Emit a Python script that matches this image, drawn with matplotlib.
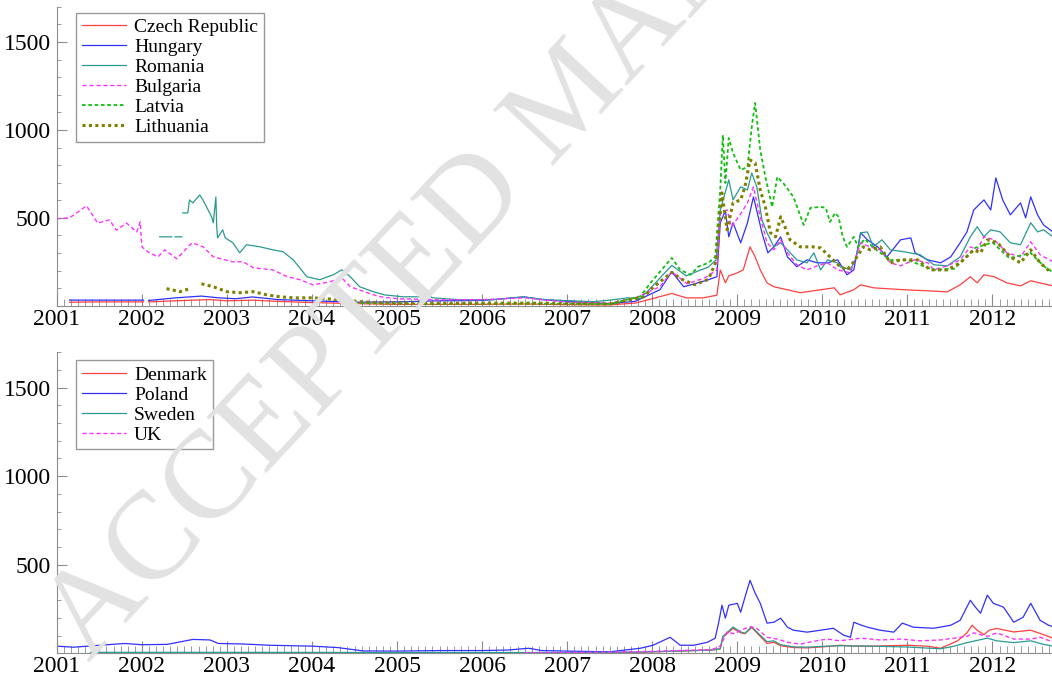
import numpy as np
import matplotlib
matplotlib.use('Agg')
from matplotlib import pyplot as plt
from matplotlib.ticker import MultipleLocator

nan = np.nan

#-----------------top panel series---------------------------#
cz_x = [2001.15, 2001.5, 2002.02, 2002.03, 2002.08, 2002.5, 2002.8, 2003.0, 2003.3, 2003.6, 2004.0, 2004.5,
        2005.0, 2005.5, 2006.0, 2006.5, 2007.0, 2007.5, 2007.8, 2008.0, 2008.23, 2008.4, 2008.6, 2008.76,
        2008.8, 2008.86, 2008.9, 2009.0, 2009.07, 2009.15, 2009.21, 2009.27, 2009.35, 2009.43, 2009.59,
        2009.74, 2009.98, 2010.14, 2010.21, 2010.37, 2010.45, 2010.6, 2010.96, 2011.24, 2011.47, 2011.62,
        2011.74, 2011.82, 2011.9, 2012.02, 2012.17, 2012.33, 2012.45, 2012.6, 2012.71]
cz_y = [20, 22, 22, nan, 22, 30, 35, 28, 32, 25, 18, 12, 8, 8, 8, 10, 6, 5, 15, 40, 70, 45, 45, 60,
        204, 130, 170, 187, 204, 335, 278, 204, 130, 108, 91, 74, 91, 102, 62, 91, 119, 102, 91, 85, 79,
        119, 165, 130, 176, 165, 130, 113, 142, 125, 113]

hu_x = [2001.15, 2001.6, 2002.02, 2002.03, 2002.08, 2002.4, 2002.7, 2002.9, 2003.1, 2003.3, 2003.6, 2004.0,
        2004.5, 2005.0, 2005.5, 2006.0, 2006.5, 2006.7, 2007.0, 2007.5, 2007.8, 2008.09, 2008.23, 2008.37,
        2008.5, 2008.66, 2008.76, 2008.8, 2008.86, 2008.9, 2008.95, 2009.04, 2009.12, 2009.19, 2009.23,
        2009.29, 2009.36, 2009.43, 2009.51, 2009.59, 2009.7, 2009.82, 2009.94, 2010.06, 2010.18, 2010.29,
        2010.37, 2010.45, 2010.53, 2010.65, 2010.76, 2010.92, 2011.04, 2011.09, 2011.24, 2011.39, 2011.51,
        2011.62, 2011.7, 2011.78, 2011.9, 2011.98, 2012.04, 2012.12, 2012.21, 2012.33, 2012.39, 2012.45,
        2012.53, 2012.6, 2012.71]
hu_y = [32, 32, 32, nan, 30, 45, 55, 45, 40, 50, 35, 28, 20, 22, 28, 30, 50, 35, 25, 12, 25, 91, 193, 108,
        125, 148, 165, 472, 540, 392, 472, 358, 472, 619, 540, 415, 301, 335, 392, 278, 222, 261, 244, 244,
        261, 176, 204, 415, 375, 335, 278, 375, 386, 301, 261, 244, 278, 358, 420, 545, 602, 545, 727, 602,
        517, 585, 500, 619, 517, 460, 420]

ro_x = [2002.21, 2002.35, 2002.36, 2002.39, 2002.47, 2002.475, 2002.48, 2002.54, 2002.56, 2002.6, 2002.68,
        2002.72, 2002.76, 2002.82, 2002.84, 2002.87, 2002.88, 2002.89, 2002.95, 2002.98, 2003.07, 2003.15,
        2003.23, 2003.39, 2003.54, 2003.66, 2003.78, 2003.94, 2004.09, 2004.25, 2004.35, 2004.45, 2004.56,
        2004.72, 2004.85, 2005.07, 2005.27, 2005.31, 2005.42, 2005.74, 2006.13, 2006.48, 2006.76, 2007.31,
        2007.54, 2007.71, 2007.86, 2008.0, 2008.23, 2008.4, 2008.55, 2008.66, 2008.75, 2008.8, 2008.9,
        2008.95, 2009.04, 2009.12, 2009.17, 2009.23, 2009.29, 2009.35, 2009.43, 2009.51, 2009.59, 2009.7,
        2009.82, 2009.9, 2009.98, 2010.06, 2010.18, 2010.21, 2010.33, 2010.4, 2010.45, 2010.53, 2010.6,
        2010.7, 2010.8, 2010.96, 2011.15, 2011.31, 2011.47, 2011.62, 2011.74, 2011.82, 2011.9, 2011.98,
        2012.09, 2012.21, 2012.33, 2012.45, 2012.53, 2012.6, 2012.71]
ro_y = [392, 392, nan, 392, 392, nan, 528, 528, 602, 585, 630, 600, 562, 506, 472, 619, 449, 386, 432, 386,
        358, 301, 347, 335, 318, 307, 261, 165, 148, 176, 204, 165, 108, 80, 62, 51, 51, 74, 45, 34, 34,
        51, 34, 23, 34, 45, 40, 110, 230, 170, 200, 220, 260, 545, 716, 602, 676, 659, 755, 676, 488, 415,
        335, 358, 318, 261, 244, 301, 204, 261, 244, 222, 204, 278, 415, 420, 335, 375, 318, 307, 290, 233,
        227, 278, 392, 449, 392, 432, 420, 358, 347, 472, 420, 432, 392]

bg_x = [2001.0, 2001.15, 2001.35, 2001.48, 2001.62, 2001.7, 2001.82, 2001.94, 2001.98, 2002.0, 2002.07,
        2002.19, 2002.27, 2002.41, 2002.59, 2002.72, 2002.84, 2003.07, 2003.19, 2003.31, 2003.54, 2003.71,
        2003.86, 2004.01, 2004.21, 2004.35, 2004.45, 2004.65, 2004.8, 2005.0, 2005.5, 2006.0, 2006.5,
        2007.0, 2007.5, 2007.8, 2008.09, 2008.23, 2008.41, 2008.62, 2008.76, 2008.8, 2008.88, 2008.93,
        2009.04, 2009.12, 2009.19, 2009.27, 2009.35, 2009.43, 2009.51, 2009.59, 2009.7, 2009.82, 2009.94,
        2010.06, 2010.18, 2010.33, 2010.45, 2010.56, 2010.68, 2010.8, 2010.92, 2011.08, 2011.24, 2011.31,
        2011.47, 2011.62, 2011.74, 2011.82, 2011.9, 2012.02, 2012.17, 2012.33, 2012.45, 2012.56, 2012.71]
bg_y = [495, 500, 568, 470, 488, 430, 470, 420, 477, 335, 307, 278, 318, 267, 358, 335, 278, 250, 250, 216,
        204, 165, 148, 119, 136, 159, 108, 74, 51, 40, 34, 35, 45, 20, 15, 45, 108, 193, 125, 159, 204,
        523, 545, 449, 523, 585, 676, 506, 358, 318, 375, 301, 233, 204, 227, 244, 204, 187, 358, 335, 318,
        244, 227, 261, 244, 204, 227, 261, 335, 318, 392, 375, 301, 278, 364, 290, 250]

lv_x = [2004.5, 2005.5, 2006.5, 2007.5, 2007.86, 2007.98, 2008.09, 2008.23, 2008.33, 2008.45, 2008.54,
        2008.66, 2008.74, 2008.8, 2008.83, 2008.86, 2008.9, 2008.95, 2009.04, 2009.12, 2009.17, 2009.21,
        2009.27, 2009.33, 2009.41, 2009.47, 2009.54, 2009.66, 2009.78, 2009.86, 2009.98, 2010.04, 2010.09,
        2010.15, 2010.19, 2010.24, 2010.29, 2010.37, 2010.42, 2010.5, 2010.6, 2010.8, 2011.0, 2011.3,
        2011.55, 2011.8, 2012.0, 2012.2, 2012.45, 2012.6, 2012.71]
lv_y = [15, 10, 12, 10, 53, 130, 193, 272, 204, 176, 222, 244, 278, 659, 971, 698, 954, 869, 772, 790,
        1017, 1153, 886, 733, 562, 733, 698, 619, 460, 557, 562, 557, 477, 528, 506, 392, 335, 392, 335,
        380, 330, 260, 261, 204, 210, 330, 360, 270, 300, 227, 190]

lt_x = [2002.29, 2002.45, 2002.56, 2002.6, 2002.7, 2002.84, 2003.0, 2003.15, 2003.31, 2003.47, 2003.62,
        2003.78, 2004.01, 2004.33, 2004.56, 2004.8, 2005.5, 2006.5, 2007.5, 2007.9, 2008.0, 2008.23, 2008.35,
        2008.5, 2008.66, 2008.75, 2008.82, 2008.88, 2008.95, 2009.04, 2009.09, 2009.15, 2009.21, 2009.27,
        2009.33, 2009.39, 2009.45, 2009.51, 2009.56, 2009.62, 2009.74, 2009.89, 2009.98, 2010.09, 2010.21,
        2010.29, 2010.37, 2010.48, 2010.56, 2010.68, 2010.8, 2010.92, 2011.12, 2011.27, 2011.47, 2011.62,
        2011.78, 2011.86, 2011.94, 2012.06, 2012.21, 2012.33, 2012.45, 2012.56, 2012.68]
lt_y = [97, 80, 97, nan, 125, 108, 80, 74, 80, 62, 51, 45, 45, 34, 23, 17, 15, 15, 10, 50, 100, 190, 150,
        120, 150, 250, 642, 432, 585, 602, 676, 829, 812, 659, 562, 415, 392, 506, 449, 375, 335, 335, 329,
        278, 222, 204, 250, 335, 318, 335, 244, 261, 261, 204, 204, 244, 318, 301, 375, 358, 278, 244, 318,
        244, 193]

#-----------------bottom panel series---------------------------#
pl_x = [2001.0, 2001.2, 2001.5, 2001.8, 2002.0, 2002.3, 2002.6, 2002.8, 2002.9, 2003.2, 2003.5, 2004.0,
        2004.3, 2004.6, 2005.0, 2005.5, 2006.0, 2006.3, 2006.55, 2006.7, 2007.0, 2007.5, 2007.86, 2008.01,
        2008.21, 2008.33, 2008.49, 2008.65, 2008.74, 2008.78, 2008.82, 2008.86, 2008.9, 2009.0, 2009.04,
        2009.09, 2009.15, 2009.21, 2009.27, 2009.35, 2009.43, 2009.51, 2009.59, 2009.66, 2009.82, 2009.98,
        2010.13, 2010.25, 2010.33, 2010.37, 2010.45, 2010.53, 2010.68, 2010.84, 2010.94, 2011.07, 2011.31,
        2011.51, 2011.62, 2011.74, 2011.8, 2011.86, 2011.94, 2012.01, 2012.13, 2012.25, 2012.36, 2012.45,
        2012.56, 2012.66, 2012.71]
pl_y = [40, 34, 45, 55, 48, 50, 78, 75, 55, 52, 45, 40, 32, 13, 12, 15, 15, 18, 28, 15, 12, 8, 28, 45,
        90, 45, 45, 62, 85, 170, 271, 198, 271, 282, 232, 316, 412, 339, 282, 170, 175, 198, 147, 130, 119,
        130, 141, 102, 90, 175, 160, 147, 130, 119, 170, 147, 141, 158, 186, 299, 260, 226, 328, 282, 260,
        175, 203, 282, 186, 158, 150]

dk_x = [2003.3, 2004.0, 2005.0, 2006.0, 2007.0, 2007.8, 2008.3, 2008.7, 2008.8, 2008.83, 2008.95, 2009.04,
        2009.09, 2009.17, 2009.23, 2009.35, 2009.43, 2009.51, 2009.66, 2009.82, 2010.06, 2010.21, 2010.37,
        2010.6, 2011.0, 2011.23, 2011.39, 2011.59, 2011.7, 2011.76, 2011.82, 2011.9, 2011.96, 2012.05,
        2012.25, 2012.45, 2012.6, 2012.71]
dk_y = [3, 3, 3, 3, 3, 5, 12, 18, 25, 90, 140, 115, 110, 145, 115, 55, 62, 42, 32, 30, 38, 45, 40, 40, 45,
        40, 28, 70, 115, 158, 130, 105, 130, 140, 120, 130, 105, 85]

se_x = [2001.4, 2003.0, 2005.0, 2007.0, 2007.8, 2008.3, 2008.7, 2008.8, 2008.83, 2008.95, 2009.04, 2009.09,
        2009.17, 2009.23, 2009.35, 2009.43, 2009.51, 2009.66, 2009.82, 2010.06, 2010.21, 2010.6, 2011.0,
        2011.39, 2011.55, 2011.7, 2011.94, 2012.05, 2012.25, 2012.45, 2012.6, 2012.71]
se_y = [5, 5, 4, 4, 6, 12, 18, 25, 95, 148, 120, 113, 150, 120, 65, 70, 48, 36, 34, 40, 42, 40, 35, 25, 40,
        60, 85, 70, 60, 70, 50, 40]

uk_x = [2006.5, 2007.0, 2007.8, 2008.3, 2008.7, 2008.8, 2008.88, 2008.97, 2009.04, 2009.15, 2009.23, 2009.35,
        2009.47, 2009.59, 2009.74, 2009.9, 2010.06, 2010.2, 2010.37, 2010.45, 2010.68, 2010.92, 2011.15,
        2011.39, 2011.55, 2011.7, 2011.78, 2011.94, 2012.05, 2012.25, 2012.45, 2012.56, 2012.7]
uk_y = [3, 4, 8, 15, 20, 40, 119, 110, 130, 150, 140, 90, 80, 62, 51, 68, 80, 70, 80, 85, 75, 80, 70, 75,
        85, 95, 115, 95, 115, 80, 80, 90, 65]

years = list(range(2001, 2013))

#-----------------plotting---------------------------#
plt.rcParams['font.family'] = ['Liberation Serif', 'DejaVu Serif']

fig = plt.figure(figsize=(10.52, 6.84), dpi=100)
ax1 = fig.add_axes([0.054, 0.553, 0.946, 0.437])
ax2 = fig.add_axes([0.054, 0.045, 0.946, 0.440])

# watermark
fig.text(0.085, 0.03, 'ACCEPTED MANUSCRIPT', fontsize=90, color='#e2e2e2',
         rotation=47, rotation_mode='anchor', ha='left', va='baseline', zorder=0)
ax1.patch.set_alpha(0)
ax2.patch.set_alpha(0)

ax1.plot(cz_x, cz_y, color='#ff4040', lw=0.9, label='Czech Republic')
ax1.plot(hu_x, hu_y, color='#3030ff', lw=0.9, label='Hungary')
ax1.plot(ro_x, ro_y, color='#2a9a92', lw=0.9, label='Romania')
ax1.plot(bg_x, bg_y, color='#ff30ff', lw=1.0, ls=(0, (3, 2)), label='Bulgaria')
ax1.plot(lv_x, lv_y, color='#10c010', lw=1.3, ls=(0, (2, 1.5)), label='Latvia')
ax1.plot(lt_x, lt_y, color='#808000', lw=2.2, ls=(0, (1, 1.1)), label='Lithuania')

ax2.plot(dk_x, dk_y, color='#ff4040', lw=0.9, label='Denmark')
ax2.plot(pl_x, pl_y, color='#3030ff', lw=0.9, label='Poland')
ax2.plot(se_x, se_y, color='#2a9a92', lw=0.9, label='Sweden')
ax2.plot(uk_x, uk_y, color='#ff30ff', lw=1.0, ls=(0, (3, 2)), label='UK')

for ax in (ax1, ax2):
    ax.set_xlim(2001, 2012.7)
    ax.set_ylim(0, 1700)
    ax.set_xticks(years)
    ax.set_xticklabels([str(y) for y in years])
    ax.xaxis.set_minor_locator(MultipleLocator(1 / 12))
    ax.set_yticks([500, 1000, 1500])
    ax.yaxis.set_minor_locator(MultipleLocator(100))
    for s in ('top', 'right'):
        ax.spines[s].set_visible(False)
    for s in ('left', 'bottom'):
        ax.spines[s].set_color('#8c8c8c')
        ax.spines[s].set_linewidth(0.8)
    ax.tick_params(axis='both', which='both', direction='in', color='#8c8c8c', labelsize=17)
    ax.tick_params(axis='x', which='major', length=9, pad=2)
    ax.tick_params(axis='x', which='minor', length=5)
    ax.tick_params(axis='y', which='major', length=7, pad=4)
    ax.tick_params(axis='y', which='minor', length=3)

leg_kw = dict(loc='upper left', borderaxespad=0, fontsize=14, frameon=True, fancybox=False,
              edgecolor='#999999', framealpha=1, labelspacing=0.12, handlelength=2.3,
              handletextpad=0.4, borderpad=0.3)
ax1.legend(bbox_to_anchor=(0.019, 0.98), **leg_kw)
ax2.legend(bbox_to_anchor=(0.019, 0.973), **leg_kw)

fig.savefig('out.png', dpi=100)
